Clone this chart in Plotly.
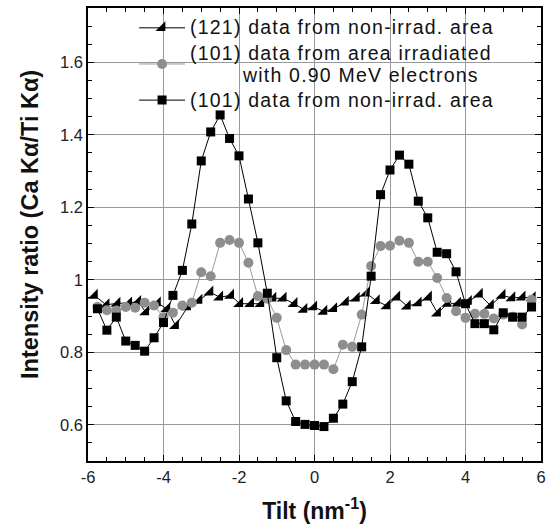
import plotly.graph_objects as go

# ---- data ----
tilt_101 = [-5.75, -5.5, -5.25, -5.0, -4.75, -4.5, -4.25, -4.0, -3.75, -3.5, -3.25, -3.0,
            -2.75, -2.5, -2.25, -2.0, -1.75, -1.5, -1.25, -1.0, -0.75, -0.5, -0.25, 0.0,
            0.25, 0.5, 0.75, 1.0, 1.25, 1.5, 1.75, 2.0, 2.25, 2.5, 2.75, 3.0, 3.25, 3.5,
            3.75, 4.0, 4.25, 4.5, 4.75, 5.0, 5.25, 5.5, 5.75]

ratio_101_nonirr = [0.920, 0.861, 0.897, 0.831, 0.819, 0.803, 0.840, 0.882, 0.957, 1.026,
                    1.154, 1.328, 1.408, 1.455, 1.390, 1.342, 1.223, 1.102, 0.963, 0.785,
                    0.666, 0.609, 0.601, 0.598, 0.595, 0.618, 0.657, 0.719, 0.815, 1.010,
                    1.235, 1.303, 1.344, 1.319, 1.217, 1.171, 1.076, 1.072, 1.022, 0.934,
                    0.879, 0.879, 0.862, 0.909, 0.897, 0.897, 0.925]

ratio_101_irr = [0.925, 0.916, 0.915, 0.925, 0.923, 0.937, 0.929, 0.897, 0.909, 0.929,
                 0.937, 1.021, 1.010, 1.102, 1.110, 1.102, 1.047, 0.955, 0.948, 0.895,
                 0.806, 0.766, 0.766, 0.766, 0.766, 0.753, 0.821, 0.815, 0.904, 1.038,
                 1.093, 1.094, 1.108, 1.102, 1.050, 1.050, 1.005, 0.950, 0.913, 0.895,
                 0.906, 0.906, 0.893, 0.904, 0.898, 0.877, 0.945]

tilt_121 = [-5.83, -5.52, -5.23, -4.92, -4.68, -4.47, -4.16, -3.91, -3.68, -3.36, -3.06,
            -2.77, -2.51, -2.22, -1.98, -1.69, -1.42, -1.10, -0.83, -0.54, -0.28, -0.02,
            0.25, 0.51, 0.82, 1.11, 1.37, 1.64, 1.92, 2.18, 2.46, 2.75, 3.02, 3.26, 3.53,
            3.79, 4.08, 4.37, 4.66, 4.97, 5.23, 5.50, 5.77]

ratio_121_nonirr = [0.957, 0.931, 0.935, 0.936, 0.940, 0.911, 0.936, 0.920, 0.873, 0.925,
                    0.943, 0.966, 0.952, 0.957, 0.934, 0.934, 0.934, 0.949, 0.949, 0.934,
                    0.918, 0.925, 0.913, 0.920, 0.938, 0.949, 0.963, 0.942, 0.928, 0.952,
                    0.927, 0.936, 0.952, 0.908, 0.935, 0.935, 0.940, 0.960, 0.929, 0.957,
                    0.950, 0.952, 0.950]

x_ticks = [-6, -4, -2, 0, 2, 4, 6]
x_tick_labels = ["-6", "-4", "-2", "0", "2", "4", "6"]
y_ticks = [0.6, 0.8, 1.0, 1.2, 1.4, 1.6]
y_tick_labels = ["0.6", "0.8", "1", "1.2", "1.4", "1.6"]

label_121 = "(121) data from non-irrad. area"
label_101_irr_1 = "(101) data from area irradiated"
label_101_irr_2 = "with 0.90 MeV electrons"
label_101 = "(101) data from non-irrad. area"

x_title = "<b>Tilt (nm<sup>-1</sup>)</b>"
y_title = "<b>Intensity ratio (Ca Kα/Ti Kα)</b>"

FONT = "Liberation Sans, Arial, Helvetica, sans-serif"
LEG_STYLE = "font-size:19.5px;letter-spacing:1.2px"


def span(t):
    return '<span style="%s">%s</span>' % (LEG_STYLE, t)


name_121 = span(label_121)
name_101_irr = span(label_101_irr_1) + "<br>" + span("&nbsp;" * 8 + label_101_irr_2)
name_101 = span(label_101)

fig = go.Figure()
fig.add_trace(go.Scatter(
    x=tilt_121, y=ratio_121_nonirr, mode="lines+markers", name=name_121,
    line=dict(color="black", width=1),
    marker=dict(symbol="triangle-se", size=11, color="black"),
))
fig.add_trace(go.Scatter(
    x=tilt_101, y=ratio_101_irr, mode="lines+markers", name=name_101_irr,
    line=dict(color="#9a9a9a", width=1),
    marker=dict(symbol="circle", size=10, color="#8e8e8e"),
))
fig.add_trace(go.Scatter(
    x=tilt_101, y=ratio_101_nonirr, mode="lines+markers", name=name_101,
    line=dict(color="black", width=1),
    marker=dict(symbol="square", size=9, color="black"),
))

axis_common = dict(
    showline=True, linecolor="black", linewidth=1.5, mirror="ticks",
    ticks="inside", ticklen=6, tickcolor="black", tickwidth=1,
    showgrid=True, gridcolor="#999999", gridwidth=1, zeroline=False,
    tickfont=dict(family=FONT, size=16.5, color="#222"),
    automargin=False,
)

fig.update_xaxes(
    range=[-6, 6], tickvals=x_ticks, ticktext=x_tick_labels,
    minor=dict(dtick=0.5, ticks="inside", ticklen=4, tickcolor="black", showgrid=False),
    title=dict(text=x_title, font=dict(family=FONT, size=23, color="#111"), standoff=19),
    **axis_common,
)
fig.update_yaxes(
    range=[0.5, 1.75], tickvals=y_ticks, ticktext=y_tick_labels,
    minor=dict(dtick=0.05, ticks="inside", ticklen=4, tickcolor="black", showgrid=False),
    **axis_common,
)

fig.add_annotation(
    text=y_title, textangle=-90, xref="paper", yref="paper",
    x=-0.128, y=0.521, xanchor="center", yanchor="middle", showarrow=False,
    font=dict(family=FONT, size=23.5, color="#111"),
)

fig.update_layout(
    width=551, height=524,
    margin=dict(l=88, r=10, t=8, b=63),
    paper_bgcolor="white", plot_bgcolor="white",
    showlegend=True,
    legend=dict(
        x=0.1017, y=0.995, xanchor="left", yanchor="top",
        bgcolor="rgba(0,0,0,0)", borderwidth=0,
        font=dict(family=FONT, size=17, color="#111"),
        itemwidth=46, tracegroupgap=0,
    ),
)

fig.write_html("out.html", config={"displayModeBar": False},
               post_script="document.body.style.margin='0';")
